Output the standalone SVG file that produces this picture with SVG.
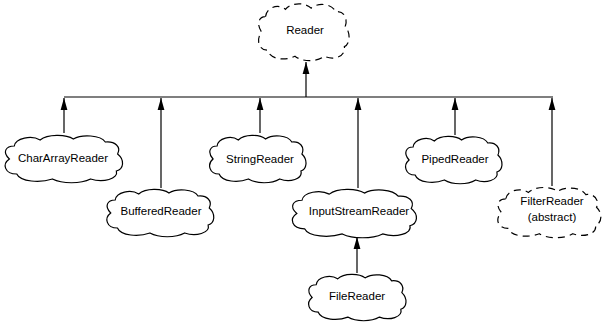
<svg xmlns="http://www.w3.org/2000/svg" xmlns:xlink="http://www.w3.org/1999/xlink" width="605" height="322" viewBox="0 0 605 322">
<style>
.cloud{fill:#fff;stroke:#000;stroke-width:1.2}
.dash{stroke-dasharray:7,5}
.lbl{font-family:"Liberation Sans",Arial,sans-serif;font-size:11.5px;fill:#000;text-anchor:middle}
.conn{stroke:#000;stroke-width:1.2;fill:none}
</style>
<defs>
<symbol id="cloudShape" viewBox="0 0 100 50" preserveAspectRatio="none" overflow="visible">
<path vector-effect="non-scaling-stroke" d="M10,13 C11,5 24,2 31,7 C37,1 52,1 58,6 C65,1 80,2 84,9 C92,8 97,14 94,21 C100,27 99,36 93,38 C95,46 82,50 72,46 C64,51 49,51 41,46 C31,50 15,49 12,41 C2,41 0,31 6,26 C0,19 3,13 10,13 Z"/>
</symbol>
<marker id="arr" markerUnits="userSpaceOnUse" markerWidth="13" markerHeight="8" refX="12" refY="4" orient="auto" viewBox="0 0 13 8" overflow="visible">
<path d="M0,0.6 L12,4 L0,7.4 Z" fill="#000"/>
</marker>
</defs>
<g id="connectors">
<line class="conn" x1="64" y1="97" x2="553" y2="97"/>
<line class="conn" x1="306" y1="97" x2="306" y2="62" marker-end="url(#arr)"/>
<line class="conn" x1="64" y1="133" x2="64" y2="98" marker-end="url(#arr)"/>
<line class="conn" x1="161" y1="188" x2="161" y2="98" marker-end="url(#arr)"/>
<line class="conn" x1="260" y1="133" x2="260" y2="98" marker-end="url(#arr)"/>
<line class="conn" x1="358" y1="188" x2="358" y2="98" marker-end="url(#arr)"/>
<line class="conn" x1="455" y1="135" x2="455" y2="98" marker-end="url(#arr)"/>
<line class="conn" x1="552" y1="186" x2="552" y2="98" marker-end="url(#arr)"/>
<line class="conn" x1="357" y1="273" x2="357" y2="237" marker-end="url(#arr)"/>
</g>
<g id="Reader">
<use href="#cloudShape" class="cloud dash" x="256" y="1" width="95" height="60"/>
<text class="lbl" x="305" y="34">Reader</text>
</g>
<g id="CharArrayReader">
<use href="#cloudShape" class="cloud" x="2" y="133" width="123" height="50"/>
<text class="lbl" x="63" y="162">CharArrayReader</text>
</g>
<g id="BufferedReader">
<use href="#cloudShape" class="cloud" x="104" y="187" width="112" height="50"/>
<text class="lbl" x="161" y="215">BufferedReader</text>
</g>
<g id="StringReader">
<use href="#cloudShape" class="cloud" x="207" y="133" width="101" height="50"/>
<text class="lbl" x="260" y="163">StringReader</text>
</g>
<g id="InputStreamReader">
<use href="#cloudShape" class="cloud" x="289" y="187" width="130" height="51"/>
<text class="lbl" x="359" y="215">InputStreamReader</text>
</g>
<g id="PipedReader">
<use href="#cloudShape" class="cloud" x="403" y="134" width="101" height="50"/>
<text class="lbl" x="455" y="163">PipedReader</text>
</g>
<g id="FilterReader">
<use href="#cloudShape" class="cloud dash" x="495" y="185" width="108" height="53"/>
<text class="lbl" x="552" y="205">FilterReader</text>
<text class="lbl" x="552" y="221">(abstract)</text>
</g>
<g id="FileReader">
<use href="#cloudShape" class="cloud" x="306" y="272" width="102" height="49"/>
<text class="lbl" x="357" y="300">FileReader</text>
</g>
</svg>
